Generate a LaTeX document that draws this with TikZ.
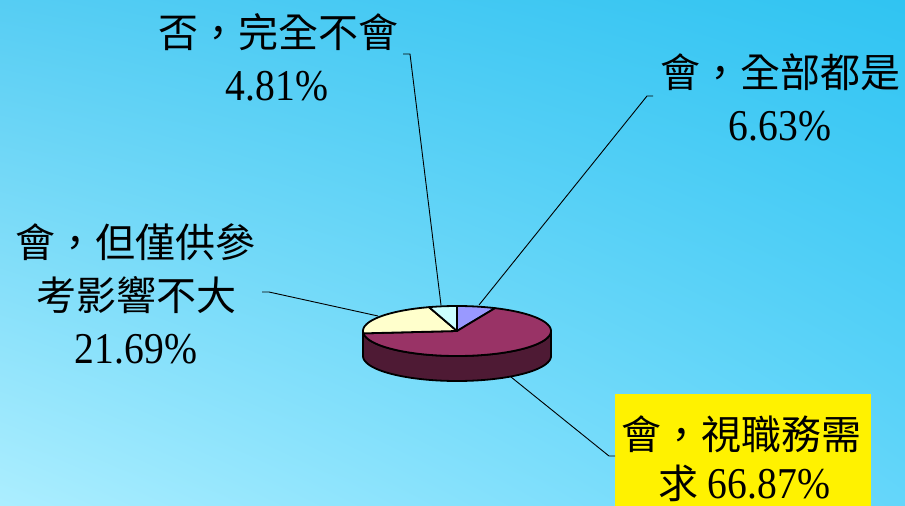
\documentclass[tikz,border=0pt]{standalone}
\usepackage{fontspec}
\usetikzlibrary{shadings}
\setmainfont{Liberation Serif}
\newfontfamily\numf[FakeStretch=0.9]{Liberation Serif}
\newfontfamily\cjkf{Noto Sans CJK TC}
\definecolor{bgUL}{RGB}{86,205,243}
\definecolor{bgUR}{RGB}{48,196,242}
\definecolor{bgLL}{RGB}{172,238,255}
\definecolor{bgLR}{RGB}{100,214,250}
\definecolor{pblue}{HTML}{9999FF}
\definecolor{pmaroon}{HTML}{993366}
\definecolor{pyellow}{HTML}{FFFFCC}
\definecolor{pcyan}{HTML}{CCFFFF}
\definecolor{pside}{RGB}{78,26,52}
\begin{document}
\begin{tikzpicture}[x=1pt,y=-1pt,
  lbl/.style={anchor=base, inner sep=0pt, font=\fontsize{40}{48}\selectfont},
  nlbl/.style={anchor=base, inner sep=0pt, font=\numf\fontsize{44}{48}\selectfont},
  leader/.style={line width=0.9pt, draw=black},
  pieedge/.style={draw=black, line width=1.8pt, line join=round}]
\path[use as bounding box] (0,0) rectangle (905,506);
\shade[upper left=bgUL, upper right=bgUR, lower left=bgLL, lower right=bgLR] (0,0) rectangle (905,506);

% pie
\coordinate (pc) at (457,331);
\filldraw[fill=pside, pieedge] plot[domain=90:270, samples=60] ({457+94*sin(\x)},{331-25*cos(\x)})
  -- plot[domain=270:90, samples=60] ({457+94*sin(\x)},{356-25*cos(\x)}) -- cycle;
\filldraw[fill=pblue, pieedge] (pc) -- plot[domain=0:23.87, samples=15] ({457+94*sin(\x)},{331-25*cos(\x)}) -- cycle;
\filldraw[fill=pmaroon, pieedge] (pc) -- plot[domain=23.87:264.6, samples=80] ({457+94*sin(\x)},{331-25*cos(\x)}) -- cycle;
\filldraw[fill=pyellow, pieedge] (pc) -- plot[domain=264.6:342.68, samples=30] ({457+94*sin(\x)},{331-25*cos(\x)}) -- cycle;
\filldraw[fill=pcyan, pieedge] (pc) -- plot[domain=342.68:360, samples=10] ({457+94*sin(\x)},{331-25*cos(\x)}) -- cycle;

% yellow box
\node[fill=yellow, inner sep=0pt, minimum width=256pt, minimum height=112pt, anchor=north west] (box) at (615,394) {};

% labels
\node[lbl] (t1a) at (278,47) {\cjkf 否，完全不會};
\node[nlbl] (t1b) at (277,100) {4.81\%};
\node[lbl] (t2a) at (780,87) {\cjkf 會，全部都是};
\node[nlbl] (t2b) at (780,140) {6.63\%};
\node[lbl] (t3a) at (136,257) {\cjkf 會，但僅供參};
\node[lbl] (t3b) at (136,310) {\cjkf 考影響不大};
\node[nlbl] (t3c) at (136,363) {21.69\%};
\node[lbl] (t4a) at (741,449) {\cjkf 會，視職務需};
\node[nlbl, text depth=0pt] (t4b) at (744,498) {{\cjkf\fontsize{40}{48}\selectfont 求} 66.87\%};

% leader lines
\coordinate (p1) at (441,305);
\coordinate (c1a) at (403,54);
\coordinate (c1b) at (410,54);
\draw[leader] (c1a) -- (c1b) -- (p1);
\coordinate (p2) at (479,305);
\coordinate (c2a) at (653,96);
\coordinate (c2b) at (647,96);
\draw[leader] (c2a) -- (c2b) -- (p2);
\coordinate (p3) at (378,316);
\coordinate (c3a) at (262,292);
\coordinate (c3b) at (269,292);
\draw[leader] (c3a) -- (c3b) -- (p3);
\coordinate (p4) at (511,377);
\coordinate (c4a) at (609,456);
\draw[leader] (p4) -- (c4a) -- (box.west |- c4a);
\end{tikzpicture}
\end{document}
